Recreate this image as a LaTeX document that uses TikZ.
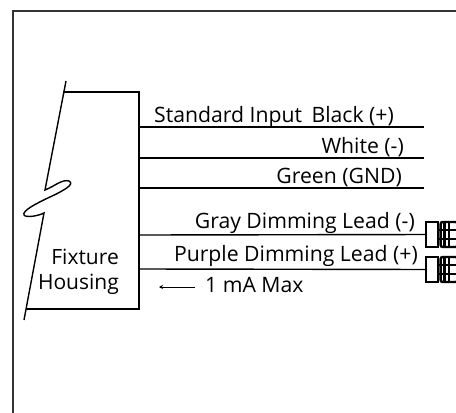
\documentclass[tikz,border=0pt]{standalone}
\usepackage{fontspec}
\setmainfont{Open Sans}
\usetikzlibrary{arrows.meta, positioning}

\tikzset{
    wire/.style = {line width = 1.4pt},
    wirelabel/.style = {anchor = base east, inner sep = 0pt, font = \fontsize{21.2}{25}\selectfont},
    plugbody/.style = {draw, line width = 2.4pt, minimum width = 12pt, minimum height = 25pt, inner sep = 0pt, anchor = west},
    pluggrid/.style = {draw, line width = 2.4pt, minimum width = 17pt, minimum height = 25pt, inner sep = 0pt, anchor = west, rounded corners = 2pt}
}

\begin{document}
\begin{tikzpicture} [x = 1pt, y = -1pt]

\useasboundingbox (0,0) rectangle (456,413);

% page frame
\draw [line width = 2pt, black!80] (12.5,413) -- (12.5,10.5) -- (456,10.5);

% housing
\coordinate (topleft) at (63,92);
\coordinate (topright) at (139,92);
\coordinate (botright) at (139,309);
\coordinate (botleft) at (26,309);
\draw [wire] (topleft) -- (topright) -- (botright) -- (botleft);
\draw [wire] (66,81) -- (45,190) .. controls (55,186) and (62,179) .. (69,181)
    .. controls (75,184) and (65,190) .. (50,197) .. controls (35,204) and (22,211) .. (24,215)
    .. controls (26,218) and (38,216) .. (44,213) -- (24,320);
\node (housing) [align = right, anchor = east, inner sep = 0pt, font = \fontsize{21}{25}\selectfont] at (119,272) {Fixture\\Housing};

% leads
\coordinate (black) at (139,127);
\coordinate (white) at (139,158);
\coordinate (green) at (139,188);
\coordinate (gray) at (139,235);
\coordinate (purple) at (139,269);
\coordinate (blackend) at (424,127);
\coordinate (whiteend) at (424,158);
\coordinate (greenend) at (424,188);

\node (plugA) [plugbody] at (425,234.5) {};
\node (gridA) [pluggrid, right = 0pt of plugA] {};
\node (plugB) [plugbody] at (425,269.5) {};
\node (gridB) [pluggrid, right = 0pt of plugB] {};

\draw [wire] (black) -- (blackend);
\draw [wire] (white) -- (whiteend);
\draw [wire] (green) -- (greenend);
\draw [wire] (gray) -- (plugA);
\draw [wire] (purple) -- (plugB);

% plug teeth
\foreach \plug in {gridA, gridB} {
    \draw [line width = 2.4pt] (\plug.north west) ++(5,0) -- ++(0,25);
    \draw [line width = 2.4pt] (\plug.north west) ++(9.5,0) -- ++(0,25);
    \draw [line width = 2.4pt] (\plug.west) ++(0,-4.5) -- ++(17,0);
    \draw [line width = 2.4pt] (\plug.west) ++(0,4.5) -- ++(17,0);
}

% labels
\node (blacktext) [wirelabel] at (394,122) {Standard Input\hspace{4pt} Black (+)};
\node (whitetext) [wirelabel] at (404,153) {White (-)};
\node (greentext) [wirelabel] at (402,183) {Green (GND)};
\node (graytext) [wirelabel] at (415,228) {Gray Dimming Lead (-)};
\node (purpletext) [wirelabel] at (418,261) {Purple Dimming Lead (+)};

\node (maxtext) [anchor = base west, inner sep = 0pt, font = \fontsize{21.2}{25}\selectfont] at (205,292) {1 mA Max};
\coordinate (arrowtip) at (159,287);
\draw [-{Stealth[length = 4pt, width = 4pt]}, line width = 1pt] (maxtext.west |- arrowtip) ++(-10,0) -- (arrowtip);

\end{tikzpicture}
\end{document}
